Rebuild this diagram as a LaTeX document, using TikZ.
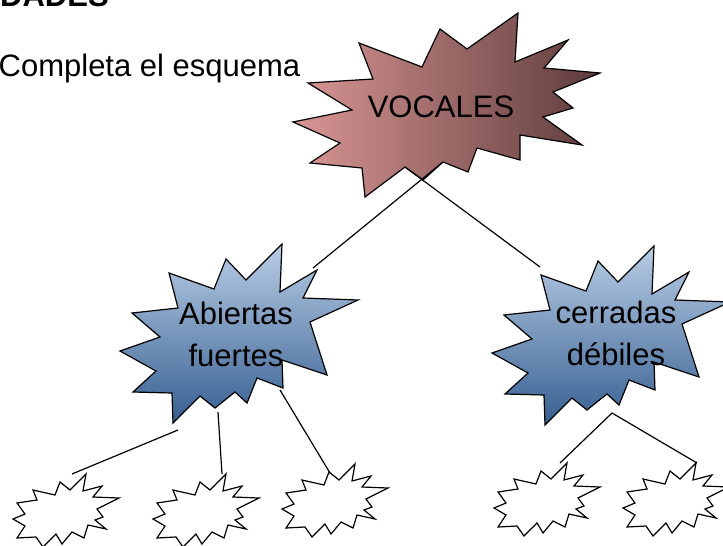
\documentclass[tikz,border=0pt]{standalone}
\usepackage{fontspec}
\setmainfont{Liberation Sans}
\usetikzlibrary{positioning}

\definecolor{rosaclaro}{HTML}{D99694}
\definecolor{rosaoscuro}{HTML}{5E3C3C}
\definecolor{azulclaro}{HTML}{B9CDE5}
\definecolor{azuloscuro}{HTML}{365F91}

\tikzset{
  explosion/.style={draw=black, line width=1.2pt, line join=miter},
  rama/.style={line width=1.2pt},
  rotulo/.style={inner sep=0pt, font=\fontsize{31}{42}\selectfont, align=center},
  estrella/.pic={
    \path[pic actions] (43,-90) -- (41,-42) -- (78,-64) -- (64,-36) -- (119,-34)
      -- (71,-12) -- (88,41) -- (43,26) -- (44,54) -- (18,44) -- (8,69) -- (-4,58)
      -- (-24,74) -- (-39,62) -- (-66,89) -- (-67,59) -- (-106,58) -- (-83,37)
      -- (-119,17) -- (-79,3) -- (-107,-21) -- (-61,-26) -- (-70,-61) -- (-25,-45)
      -- (-13,-75) -- (7,-54) -- cycle;
  },
  chispa/.pic={
    \path[pic actions] (20,-36) -- (17,-19) -- (36,-24) -- (27,-13) -- (53,-12)
      -- (31,-1) -- (37,7) -- (29,10) -- (40,19) -- (22,15) -- (18,28) -- (6,22)
      -- (-4,34) -- (-10,24) -- (-23,37) -- (-30,27) -- (-49,28) -- (-41,16)
      -- (-53,9) -- (-41,4) -- (-49,-7) -- (-29,-10) -- (-33,-20) -- (-11,-15)
      -- (-6,-28) -- (4,-20) -- cycle;
  }
}

\begin{document}
\begin{tikzpicture}[x=1pt, y=-1pt]
  \useasboundingbox (0,0) rectangle (723,546);

  % estrellas
  \draw[explosion, left color=rosaclaro, right color=rosaoscuro]
    (293,122) -- (352,110) -- (308,83) -- (373,79) -- (359,43) -- (422,67)
    -- (440,29) -- (467,49) -- (518,13) -- (515,62) -- (568,40) -- (544,68)
    -- (600,73) -- (553,92) -- (573,108) -- (543,117) -- (582,145) -- (520,135)
    -- (520,160) -- (477,148) -- (468,172) -- (443,162) -- (423,180) -- (405,167)
    -- (365,197) -- (362,168) -- (310,163) -- (340,143) -- cycle;
  \pic[explosion, top color=azulclaro, bottom color=azuloscuro] at (239,334) {estrella};
  \pic[explosion, top color=azulclaro, bottom color=azuloscuro] at (611,336) {estrella};
  \foreach \x/\y in {66/510, 206/510, 335/500, 547/499, 676/499}
    \pic[explosion, fill=white] at (\x,\y) {chispa};

  % textos
  \node[rotulo, font=\fontsize{31}{42}\selectfont\bfseries, anchor=base west] (titulo) at (0,6) {DADES};
  \node[rotulo, anchor=base west] (consigna) at (-1.5,76) {Completa el esquema};
  \node[rotulo, anchor=base] (vocales) at (441,117) {VOCALES};
  \node[rotulo] (abiertas) at (236,334) {Abiertas\\fuertes};
  \node[rotulo] (cerradas) at (616,333) {cerradas\\débiles};

  % lineas
  \coordinate (v1) at (443,162);
  \coordinate (v2) at (405,167);
  \coordinate (a0) at (313,268);
  \coordinate (c0) at (540,267);
  \coordinate (a1) at (178,430);
  \coordinate (a2) at (218,412);
  \coordinate (a3) at (280,390);
  \coordinate (c1) at (612,413);
  \coordinate (h1) at (72,474);
  \coordinate (h2) at (222,474);
  \coordinate (h3) at (330,473);
  \coordinate (h4) at (560,463);
  \coordinate (h5) at (697,463);
  \draw[rama] (v1) -- (a0);
  \draw[rama] (v2) -- (c0);
  \draw[rama] (a1) -- (h1);
  \draw[rama] (a2) -- (h2);
  \draw[rama] (a3) -- (h3);
  \draw[rama] (h4) -- (c1) -- (h5);
\end{tikzpicture}
\end{document}
